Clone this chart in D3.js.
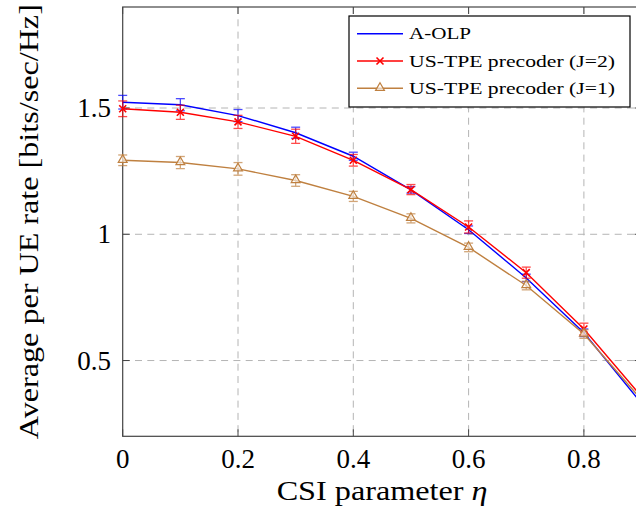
<!DOCTYPE html>
<meta charset="utf-8">
<script src="https://d3js.org/d3.v7.min.js"></script>
<style>
  body { margin: 0; background: #fff; }
</style>
<div id="chart"></div>

<script>
// CSI parameter values
var eta = [0, 0.1, 0.2, 0.3, 0.4, 0.5, 0.6, 0.7, 0.8, 0.9];

// rates and error half-widths
var aolp      = [1.523, 1.513, 1.470, 1.402, 1.309, 1.176, 1.018, 0.827, 0.610, 0.330];
var aolpErr   = [0.027, 0.024, 0.024, 0.022, 0.016, 0.013, 0.015, 0.015, 0.015, 0.015];
var usJ2      = [1.497, 1.483, 1.445, 1.388, 1.293, 1.177, 1.029, 0.848, 0.625, 0.357];
var usJ2Err   = [0.031, 0.028, 0.026, 0.028, 0.023, 0.020, 0.024, 0.022, 0.023, 0.020];
var usJ1      = [1.293, 1.284, 1.259, 1.213, 1.150, 1.063, 0.948, 0.797, 0.605, 0.345];
var usJ1Err   = [0.021, 0.024, 0.025, 0.023, 0.020, 0.018, 0.017, 0.017, 0.017, 0.017];

var xTicks = [0, 0.2, 0.4, 0.6, 0.8];
var yTicks = [0.5, 1, 1.5];
var seriesNames = ["A-OLP", "US-TPE precoder (J=2)", "US-TPE precoder (J=1)"];

var W = 636, H = 519;
var pL = 122.7, pT = 7, pB = 436.3;
var serif = "'Liberation Serif', 'Times New Roman', serif";

var svg = d3.select("#chart").append("svg")
  .attr("width", W)
  .attr("height", H)
  .attr("font-family", serif);

var x = d3.scaleLinear().domain([0, 0.9]).range([pL, pL + 0.9 * 576.5]);
var y = d3.scaleLinear().domain([0.2, 1.9]).range([pB, pT]);
var pR = x(0.9);

// grid
var grid = svg.append("g").attr("stroke", "#b4b4b4").attr("stroke-dasharray", "7,5.3").attr("stroke-width", 1);
xTicks.slice(1).forEach(function(t) {
  grid.append("line").attr("x1", x(t)).attr("x2", x(t)).attr("y1", pT).attr("y2", pB);
});
yTicks.forEach(function(t) {
  grid.append("line").attr("x1", pL).attr("x2", pR).attr("y1", y(t)).attr("y2", y(t));
});

// frame
svg.append("rect")
  .attr("x", pL).attr("y", pT)
  .attr("width", pR - pL).attr("height", pB - pT)
  .attr("fill", "none").attr("stroke", "#444").attr("stroke-width", 1.2);

// inward ticks on all four sides
var tk = svg.append("g").attr("stroke", "#444").attr("stroke-width", 1);
xTicks.forEach(function(t) {
  tk.append("line").attr("x1", x(t)).attr("x2", x(t)).attr("y1", pB).attr("y2", pB - 7);
  tk.append("line").attr("x1", x(t)).attr("x2", x(t)).attr("y1", pT).attr("y2", pT + 7);
});
yTicks.forEach(function(t) {
  tk.append("line").attr("x1", pL).attr("x2", pL + 7).attr("y1", y(t)).attr("y2", y(t));
  tk.append("line").attr("x1", pR).attr("x2", pR - 7).attr("y1", y(t)).attr("y2", y(t));
});

// tick labels
svg.append("g").selectAll("text").data(xTicks).enter().append("text")
  .attr("x", function(d) { return x(d); })
  .attr("y", 468)
  .attr("text-anchor", "middle")
  .style("font-size", "27px")
  .text(function(d) { return d; });

svg.append("g").selectAll("text").data(yTicks).enter().append("text")
  .attr("x", 111)
  .attr("y", function(d) { return y(d) + 9; })
  .attr("text-anchor", "end")
  .style("font-size", "27px")
  .text(function(d) { return d; });

// axis titles
var xl = svg.append("text")
  .attr("x", (pL + pR) / 2)
  .attr("y", 500)
  .attr("text-anchor", "middle")
  .attr("textLength", 211)
  .attr("lengthAdjust", "spacingAndGlyphs")
  .style("font-size", "27px");
xl.append("tspan").text("CSI parameter ");
xl.append("tspan").style("font-style", "italic").text("η");

svg.append("text")
  .attr("transform", "translate(37.5," + ((pT + pB) / 2) + ") rotate(-90)")
  .attr("text-anchor", "middle")
  .attr("textLength", 435)
  .attr("lengthAdjust", "spacingAndGlyphs")
  .style("font-size", "27px")
  .text("Average per UE rate [bits/sec/Hz]");

// series
var series = [
  {name: seriesNames[0], vals: aolp, err: aolpErr, color: "#0000ff", marker: "none"},
  {name: seriesNames[1], vals: usJ2, err: usJ2Err, color: "#ff0000", marker: "cross"},
  {name: seriesNames[2], vals: usJ1, err: usJ1Err, color: "#bf8040", marker: "tri"}
];

var line = d3.line()
  .x(function(d) { return x(d.x); })
  .y(function(d) { return y(d.y); });

function drawMarker(g, kind, color, cx, cy) {
  if (kind === "cross") {
    g.append("path")
      .attr("d", "M" + (cx - 3.5) + "," + (cy - 3.5) + "L" + (cx + 3.5) + "," + (cy + 3.5) +
                 "M" + (cx - 3.5) + "," + (cy + 3.5) + "L" + (cx + 3.5) + "," + (cy - 3.5))
      .attr("stroke", color).attr("stroke-width", 1.6).attr("fill", "none");
  } else if (kind === "tri") {
    g.append("path")
      .attr("d", d3.symbol().type(d3.symbolTriangle).size(34)())
      .attr("transform", "translate(" + cx + "," + (cy - 0.5) + ")")
      .attr("stroke", color).attr("stroke-width", 1.2).attr("fill", "#fff").attr("fill-opacity", 0.6);
  }
}

var plot = svg.append("g");
series.forEach(function(s) {
  var pts = eta.map(function(e, i) { return {x: e, y: s.vals[i], e: s.err[i]}; });
  var g = plot.append("g");

  g.append("path")
    .datum(pts)
    .attr("d", line)
    .attr("fill", "none")
    .attr("stroke", s.color)
    .attr("stroke-width", 1.4);

  // error bars
  var eb = g.append("g").attr("stroke", s.color).attr("stroke-width", 1.3).attr("opacity", 0.7);
  pts.forEach(function(p) {
    var cx = x(p.x);
    eb.append("line").attr("x1", cx).attr("x2", cx).attr("y1", y(p.y - p.e)).attr("y2", y(p.y + p.e));
    eb.append("line").attr("x1", cx - 4.5).attr("x2", cx + 4.5).attr("y1", y(p.y - p.e)).attr("y2", y(p.y - p.e));
    eb.append("line").attr("x1", cx - 4.5).attr("x2", cx + 4.5).attr("y1", y(p.y + p.e)).attr("y2", y(p.y + p.e));
  });

  pts.forEach(function(p) { drawMarker(g, s.marker, s.color, x(p.x), y(p.y)); });
});

// legend
var lg = svg.append("g");
lg.append("rect")
  .attr("x", 349).attr("y", 16)
  .attr("width", 281).attr("height", 91)
  .attr("fill", "#fff").attr("stroke", "#000").attr("stroke-width", 1.2);

var rowY = [33.7, 61, 88.3];
var textW = [62, 206, 206];
series.forEach(function(s, i) {
  lg.append("line")
    .attr("x1", 357).attr("x2", 403)
    .attr("y1", rowY[i]).attr("y2", rowY[i])
    .attr("stroke", s.color).attr("stroke-width", 1.4);
  drawMarker(lg, s.marker, s.color, 380, rowY[i]);
  lg.append("text")
    .attr("x", 409)
    .attr("y", rowY[i] + 5.5)
    .attr("textLength", textW[i])
    .attr("lengthAdjust", "spacingAndGlyphs")
    .style("font-size", "17px")
    .text(s.name);
});
</script>
